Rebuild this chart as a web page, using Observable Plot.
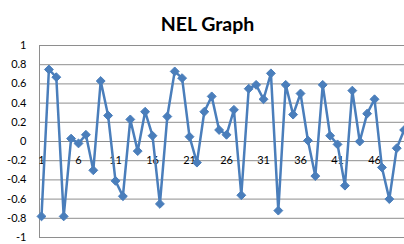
<!DOCTYPE html>
<html>
<head>
<meta charset="utf-8">
<script src="https://cdn.jsdelivr.net/npm/d3@7"></script>
<script src="https://cdn.jsdelivr.net/npm/@observablehq/plot@0.6"></script>
<style>
  html, body { margin: 0; padding: 0; background: #fff; }
  #chart svg { display: block; }
</style>
</head>
<body>
<div id="chart"></div>
<script>
const title = "NEL Graph";
const values = [-0.78, 0.75, 0.67, -0.78, 0.03, -0.02, 0.07, -0.30, 0.63, 0.27,
  -0.41, -0.57, 0.23, -0.10, 0.31, 0.06, -0.65, 0.26, 0.73, 0.66,
  0.05, -0.22, 0.31, 0.47, 0.12, 0.07, 0.33, -0.56, 0.55, 0.59,
  0.44, 0.71, -0.72, 0.59, 0.28, 0.50, 0.01, -0.36, 0.59, 0.06,
  -0.03, -0.46, 0.53, 0.00, 0.29, 0.44, -0.27, -0.60, -0.07, 0.12];
const xTickLabels = [1, 6, 11, 16, 21, 26, 31, 36, 41, 46];
const yTicks = [-1, -0.8, -0.6, -0.4, -0.2, 0, 0.2, 0.4, 0.6, 0.8, 1];

const data = values.map((v, i) => ({i: i + 1, v}));
const xMin = 0.73, xMax = 50.05;
const gridColor = "#8e8e8e";
const lineColor = "#4a7ebb";

const chart = Plot.plot({
  width: 404,
  height: 244,
  marginTop: 45,
  marginBottom: 7,
  marginLeft: 39,
  marginRight: 0,
  style: {fontFamily: "Lato, 'Open Sans', sans-serif", fontSize: "11px", color: "#000", background: "#fff"},
  x: {domain: [xMin, xMax], axis: null},
  y: {domain: [-1, 1], ticks: yTicks, tickSize: 0, tickPadding: 13,
      tickFormat: d => String(+d.toFixed(1)), label: null},
  marks: [
    Plot.ruleY(yTicks, {stroke: gridColor, strokeWidth: 1}),
    Plot.ruleX([xMin], {y1: -1, y2: 1, stroke: gridColor, strokeWidth: 1}),
    Plot.text(xTickLabels, {x: d => d, y: 0, dy: 19, text: d => String(d), fill: "#000", fontSize: 11}),
    Plot.line(data, {x: "i", y: "v", stroke: lineColor, strokeWidth: 2.5, strokeLinejoin: "round"}),
    Plot.dot(data, {x: "i", y: "v", symbol: "diamond2", r: 4, fill: lineColor, stroke: lineColor, strokeWidth: 1}),
    Plot.text([title], {frameAnchor: "top-left", textAnchor: "middle", dx: 168, dy: -28, text: d => d,
      fontSize: 19.5, fontWeight: "bold", fill: "#000", fontFamily: "Lato, 'Open Sans', sans-serif"})
  ]
});
document.getElementById("chart").appendChild(chart);
</script>
</body>
</html>
